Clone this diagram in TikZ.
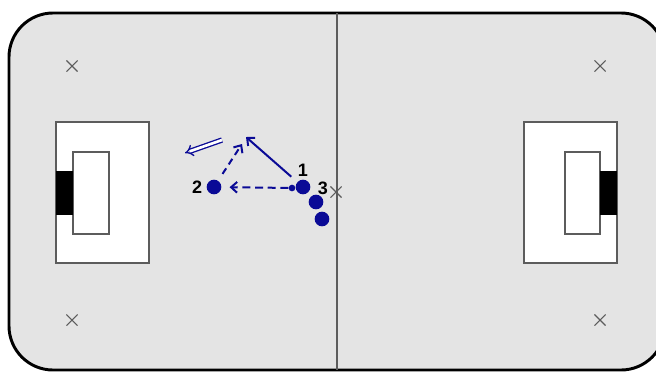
\documentclass[tikz,border=0pt]{standalone}
\usepackage{fontspec}
\setmainfont{Liberation Sans}
\usetikzlibrary{arrows.meta,positioning,shapes.misc}
\definecolor{PitchGray}{HTML}{E4E4E4}
\definecolor{LineGray}{HTML}{5C5C5C}
\definecolor{TeamBlue}{HTML}{0A0A96}
\tikzset{
  player/.style={circle,fill=TeamBlue,inner sep=0pt,minimum size=11pt},
  ballpt/.style={circle,fill=TeamBlue,inner sep=0pt,minimum size=5pt},
  xmark/.style={cross out,draw=LineGray,line width=0.8pt,minimum size=7.5pt,inner sep=0pt},
  pitchline/.style={draw=LineGray,line width=1.1pt},
  num/.style={font=\fontsize{13.5}{15}\selectfont\bfseries,inner sep=0pt},
  run/.style={TeamBlue,line width=1.5pt,-{Straight Barb[length=4.5pt,width=8pt]}},
}

\begin{document}
\begin{tikzpicture}[x=0.75pt,y=-0.75pt]
\useasboundingbox (0,0) rectangle (656,372);
\clip (0,0) rectangle (656,372);
% pitch
\draw[fill=PitchGray,line width=2.2pt,rounded corners=33pt] (9,13) rectangle (665,370);
\draw[pitchline] (337,13) -- (337,370);
% penalty areas and goals
\draw[pitchline,fill=white] (56,122) rectangle (149,263);
\draw[pitchline,fill=white] (73,152) rectangle (109,234);
\fill (56,171) rectangle (73,215);
\draw[pitchline,fill=white] (524,122) rectangle (617,263);
\draw[pitchline,fill=white] (565,152) rectangle (600,234);
\fill (600,171) rectangle (617,215);
% marks
\node[xmark] (xtl) at (72,66) {};
\node[xmark] (xtr) at (600,66) {};
\node[xmark] (xbl) at (72,320) {};
\node[xmark] (xbr) at (600,320) {};
\node[xmark] (xc) at (336,192) {};
% players
\node[player] (p1) at (303,187) {};
\node[player] (p2) at (214,187) {};
\node[player] (p3) at (316,202) {};
\node[player] (p4) at (322,219) {};
\node[ballpt] (ball) at (292,188) {};
\node[num,above=2pt of p1] (n1) {1};
\node[num,left=3pt of p2] (n2) {2};
\node[num] (n3) at (323,188) {3};
% moves
\coordinate (run1) at (246,137);
\coordinate (run2) at (242,144);
\coordinate (dbl1) at (222,140);
\coordinate (dbl2) at (185,153);
\draw[run,dashed,dash pattern=on 6pt off 3.5pt,shorten >=6pt] (ball) -- (p2);
\draw[run,shorten <=6pt] (p1) -- (run1);
\draw[run,dashed,dash pattern=on 5pt off 3.5pt,shorten <=6pt] (p2) -- (run2);
\draw[TeamBlue,line width=1pt,double distance=2pt,-{Implies}] (dbl1) -- (dbl2);
\end{tikzpicture}
\end{document}
